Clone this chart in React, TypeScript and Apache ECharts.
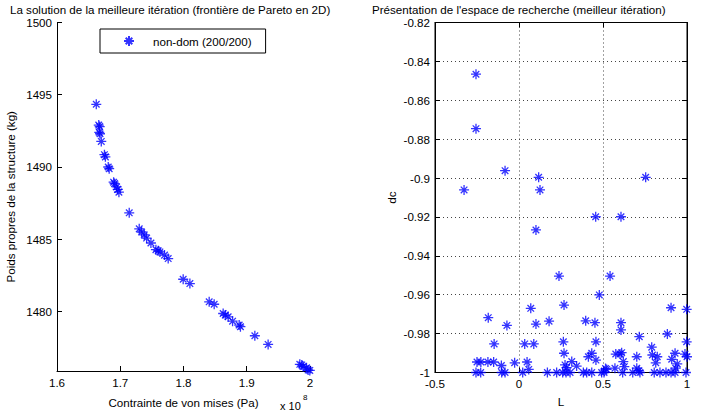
import React, { useEffect, useRef } from "react";
import * as echarts from "echarts";

const ASTERISK = "path://M5,0L5,10M0,5L10,5M1.7,1.7L8.3,8.3M8.3,1.7L1.7,8.3";
const BLUE = "#0000ff";
const FONT = "'Liberation Sans', Arial, Helvetica, sans-serif";
const FS = 11.6;

// Left chart: Pareto front (stress in 1e8 Pa, mass in kg)
const paretoStress = [
  1.6621, 1.666, 1.6675, 1.6668, 1.668, 1.67, 1.675, 1.6765, 1.681, 1.6825,
  1.6895, 1.691, 1.6943, 1.696, 1.6979, 1.7142, 1.73, 1.7338, 1.738, 1.7417,
  1.7485, 1.7564, 1.76, 1.7627, 1.77, 1.7758, 1.7995, 1.8101, 1.8406, 1.8485,
  1.8627, 1.866, 1.8706, 1.8776, 1.888, 1.89, 1.9128, 1.9338, 1.9839, 1.987,
  1.9891, 1.9945, 1.997, 1.9997,
];
const paretoMass = [
  1494.34, 1492.9, 1492.8, 1492.4, 1492.3, 1491.77, 1490.85, 1490.7, 1490.0, 1489.88,
  1488.95, 1488.85, 1488.62, 1488.45, 1488.26, 1486.83, 1485.72, 1485.5, 1485.3, 1485.08,
  1484.74, 1484.28, 1484.2, 1484.12, 1483.9, 1483.66, 1482.23, 1481.93, 1480.67, 1480.5,
  1479.86, 1479.75, 1479.63, 1479.33, 1479.06, 1478.95, 1478.32, 1477.72, 1476.34, 1476.3,
  1476.19, 1476.1, 1475.95, 1475.92,
];
const paretoYTicks = [1480, 1485, 1490, 1495, 1500];

// Right chart: search space (L, dc)
const searchL = [
  -0.256, -0.256, -0.083, -0.327, 0.117, 0.125, 0.754, 0.4565, 0.607, 0.101,
  0.238, 0.542, 0.478, -0.183, -0.072, 0.07, 0.101, 0.179, 0.268, 0.397,
  0.452, 0.607, 0.607, 0.905, 0.998, 0.883, 0.716, -0.148, 0.034, 0.088,
  0.264, 0.268, 0.458, 0.433, 0.413, 0.458, 0.576, 0.601, 0.611, 0.701,
  0.79, 0.794, 0.823, 0.814, 0.929, 0.909, 0.942, 0.988, 0.998, 1.0,
  -0.25, -0.227, -0.185, -0.151, -0.105, -0.026, 0.048, 0.058, 0.274, 0.314,
  0.343, 0.522, 0.571, 0.621, 0.627, 0.701, 0.714, 0.933, 0.515, 0.284,
  -0.256, -0.228, -0.103, -0.083, 0.022, 0.169, 0.224, 0.26, 0.28, 0.304,
  0.383, 0.403, 0.433, 0.492, 0.506, 0.617, 0.677, 0.72, 0.805, 0.839,
  0.875, 0.905, 0.929, 0.994,
];
const searchDc = [
  -0.8466, -0.8746, -0.8962, -0.9061, -0.8996, -0.9061, -0.8996, -0.9199, -0.9199, -0.9267,
  -0.9504, -0.9504, -0.9601, -0.9718, -0.9758, -0.967, -0.9751, -0.9736, -0.9653, -0.9734,
  -0.9744, -0.9744, -0.9781, -0.9667, -0.9675, -0.9802, -0.9816, -0.9853, -0.9853, -0.9853,
  -0.9842, -0.9901, -0.9842, -0.9901, -0.9919, -0.9936, -0.9905, -0.9905, -0.9898, -0.9919,
  -0.987, -0.991, -0.9919, -0.995, -0.9901, -0.9932, -0.9956, -0.9905, -0.9842, -0.9919,
  -0.9946, -0.9946, -0.9946, -0.9946, -0.9964, -0.995, -0.9946, -0.9984, -0.9961, -0.9944,
  -0.9967, -0.9984, -0.9978, -0.9944, -0.997, -0.9978, -0.9991, -0.9978, -0.998, -0.9975,
  -1, -1, -1, -1, -1, -1, -1, -1, -1, -1,
  -1, -1, -1, -1, -1, -1, -1, -1, -1, -1,
  -1, -1, -1, -1,
];

const LEGEND_NAME = "non-dom (200/200)";

export default function App() {
  const ref = useRef<HTMLDivElement>(null);
  useEffect(() => {
    document.body.style.margin = "0";
    const chart = echarts.init(ref.current!, null, { renderer: "svg" });
    const axisLine = { show: true, onZero: false, lineStyle: { color: "#000", width: 1 } };
    const tick = { show: true, inside: true, length: 5, lineStyle: { color: "#000" } };
    const label = {
      color: "#000",
      fontSize: FS,
      fontFamily: FONT,
      margin: 5,
      formatter: (v: number) => String(+v.toFixed(6)),
    };
    const nameStyle = { color: "#000", fontSize: FS, fontFamily: FONT };
    const dotted = { show: true, lineStyle: { color: "#444", type: [1, 3], width: 1 } };
    const sym = {
      symbol: ASTERISK,
      symbolSize: 10,
      itemStyle: { color: "rgba(0,0,0,0)", borderColor: BLUE, borderWidth: 1.3 },
    };
    chart.setOption({
      animation: false,
      textStyle: { fontFamily: FONT },
      title: [
        {
          text: "La solution de la meilleure itération (frontière de Pareto en 2D)",
          left: 10,
          top: 3,
          padding: 0,
          textStyle: { fontSize: FS, fontWeight: "normal", color: "#000", fontFamily: FONT },
        },
        {
          text: "Présentation de l'espace de recherche (meilleur itération)",
          left: 372,
          top: 3,
          padding: 0,
          textStyle: { fontSize: FS, fontWeight: "normal", color: "#000", fontFamily: FONT },
        },
      ],
      legend: {
        data: [LEGEND_NAME],
        left: 100,
        top: 29,
        padding: [6, 14, 6, 23],
        borderColor: "#000",
        borderWidth: 1,
        backgroundColor: "#fff",
        itemWidth: 10,
        itemHeight: 10,
        icon: ASTERISK,
        textStyle: { color: "#000", fontSize: FS, fontFamily: FONT, padding: [0, 0, 0, 14] },
      },
      grid: [
        { left: 57, top: 22.5, width: 253, height: 350 },
        { left: 435, top: 22.5, width: 252, height: 350, show: true, borderColor: "#000", borderWidth: 1 },
      ],
      xAxis: [
        {
          gridIndex: 0,
          type: "value",
          min: 1.6,
          max: 2,
          interval: 0.1,
          axisLine,
          axisTick: tick,
          axisLabel: label,
          splitLine: { show: false },
          name: "Contrainte de von mises (Pa)",
          nameLocation: "middle",
          nameGap: 25,
          nameTextStyle: nameStyle,
        },
        {
          gridIndex: 1,
          type: "value",
          min: -0.5,
          max: 1,
          interval: 0.5,
          axisLine,
          axisTick: tick,
          axisLabel: label,
          splitLine: dotted,
          name: "L",
          nameLocation: "middle",
          nameGap: 23,
          nameTextStyle: nameStyle,
        },
        {
          gridIndex: 1,
          type: "value",
          position: "top",
          min: -0.5,
          max: 1,
          interval: 0.5,
          axisLine,
          axisTick: tick,
          axisLabel: { show: false },
          splitLine: { show: false },
        },
      ],
      yAxis: [
        {
          gridIndex: 0,
          type: "value",
          min: 1475.88,
          max: 1500,
          axisLine,
          axisTick: { ...tick, customValues: paretoYTicks },
          axisLabel: { ...label, customValues: paretoYTicks },
          splitLine: { show: false },
          name: "Poids propres de la structure (kg)",
          nameLocation: "middle",
          nameGap: 41,
          nameTextStyle: nameStyle,
        },
        {
          gridIndex: 1,
          type: "value",
          min: -1,
          max: -0.82,
          interval: 0.02,
          axisLine,
          axisTick: tick,
          axisLabel: label,
          splitLine: dotted,
          name: "dc",
          nameLocation: "middle",
          nameGap: 38,
          nameTextStyle: nameStyle,
        },
        {
          gridIndex: 1,
          type: "value",
          position: "right",
          min: -1,
          max: -0.82,
          interval: 0.02,
          axisLine,
          axisTick: tick,
          axisLabel: { show: false },
          splitLine: { show: false },
        },
      ],
      graphic: [
        {
          type: "text",
          left: 280,
          top: 400,
          style: { text: "x 10", fontSize: 11, fontFamily: FONT, fill: "#000" },
        },
        {
          type: "text",
          left: 303,
          top: 393,
          style: { text: "8", fontSize: 8, fontFamily: FONT, fill: "#000" },
        },
      ],
      series: [
        {
          name: LEGEND_NAME,
          type: "scatter",
          xAxisIndex: 0,
          yAxisIndex: 0,
          clip: false,
          ...sym,
          data: paretoStress.map((x, i) => [x, paretoMass[i]]),
        },
        {
          name: "search",
          type: "scatter",
          xAxisIndex: 1,
          yAxisIndex: 1,
          clip: false,
          ...sym,
          data: searchL.map((x, i) => [x, searchDc[i]]),
        },
      ],
    });
    return () => chart.dispose();
  }, []);
  return <div ref={ref} style={{ width: 714, height: 413 }} />;
}
